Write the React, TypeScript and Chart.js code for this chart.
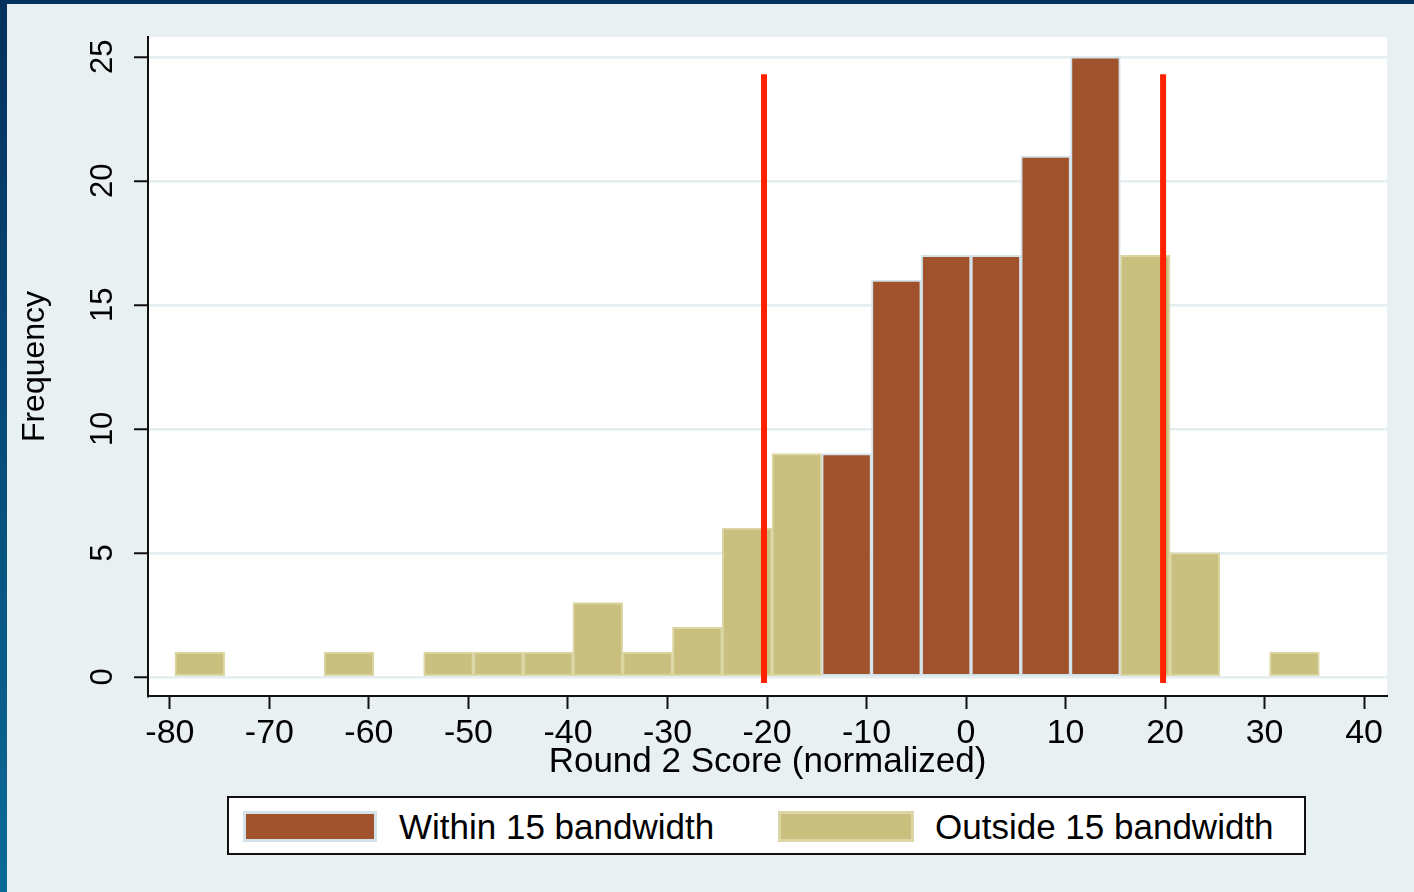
import React, { useEffect, useRef } from 'react';
import { Chart, registerables } from 'chart.js';

Chart.register(...registerables);

// ---- data ----
const withinCenters = [-12, -7, -2, 3, 8, 13];
const withinCounts = [9, 16, 17, 17, 21, 25];
const outsideCenters = [-77, -62, -52, -47, -42, -37, -32, -27, -22, -17, 18, 23, 33];
const outsideCounts = [1, 1, 1, 1, 1, 3, 1, 2, 6, 9, 17, 5, 1];
const xTicks = [-80, -70, -60, -50, -40, -30, -20, -10, 0, 10, 20, 30, 40];
const yTicks = [0, 5, 10, 15, 20, 25];
const cutoffs = [-20.3, 19.8];
const cutoffSpan = [-0.25, 24.3];
const legendLabels = ['Within 15 bandwidth', 'Outside 15 bandwidth'];
const xTitle = 'Round 2 Score (normalized)';
const yTitle = 'Frequency';

const BROWN = '#a0522d';
const BROWN_EDGE = '#d4e2ea';
const TAN = '#c9c07f';
const TAN_EDGE = '#dcd6a4';
const RED = '#ff2200';
const BG = '#e8f0f2';
const GRID = '#e4edf0';
const FONT = '"Liberation Sans", Arial, Helvetica, sans-serif';

export default function App() {
  const ref = useRef<HTMLCanvasElement | null>(null);

  useEffect(() => {
    const canvas = ref.current;
    if (!canvas) return;

    const plotBg = {
      id: 'plotBg',
      beforeDraw(chart: any) {
        const { ctx, chartArea } = chart;
        ctx.save();
        ctx.fillStyle = '#ffffff';
        ctx.fillRect(chartArea.left, chartArea.top, chartArea.right - chartArea.left, chartArea.bottom - chartArea.top);
        ctx.restore();
      },
    };

    const yLabels = {
      id: 'yLabels',
      afterDraw(chart: any) {
        const { ctx } = chart;
        const ys = chart.scales.y;
        ctx.save();
        ctx.fillStyle = '#000';
        ctx.font = `31px ${FONT}`;
        ctx.textAlign = 'center';
        ctx.textBaseline = 'middle';
        yTicks.forEach((v) => {
          const y = ys.getPixelForValue(v);
          ctx.save();
          ctx.translate(103, y);
          ctx.rotate(-Math.PI / 2);
          ctx.fillText(String(v), 0, 0);
          ctx.restore();
        });
        ctx.restore();
      },
    };

    const lineSets = cutoffs.map((c) => ({
      type: 'line' as const,
      label: 'cutoff ' + c,
      data: cutoffSpan.map((y) => ({ x: c, y })),
      borderColor: RED,
      borderWidth: 6,
      pointRadius: 0,
      borderCapStyle: 'butt' as const,
      fill: false,
      order: 0,
    }));

    const chart = new Chart(canvas, {
      type: 'bar',
      data: {
        datasets: [
          {
            label: legendLabels[0],
            data: withinCenters.map((x, i) => ({ x, y: withinCounts[i] })),
            backgroundColor: BROWN,
            borderColor: BROWN_EDGE,
            borderWidth: 2,
            borderSkipped: false,
            grouped: false,
            barPercentage: 1,
            categoryPercentage: 1,
            order: 1,
          } as any,
          {
            label: legendLabels[1],
            data: outsideCenters.map((x, i) => ({ x, y: outsideCounts[i] })),
            backgroundColor: TAN,
            borderColor: TAN_EDGE,
            borderWidth: 2,
            borderSkipped: false,
            grouped: false,
            barPercentage: 1,
            categoryPercentage: 1,
            order: 1,
          } as any,
          ...(lineSets as any[]),
        ],
      },
      options: {
        responsive: false,
        animation: false,
        devicePixelRatio: 1,
        layout: { padding: { left: 8, top: 37, right: 27, bottom: 109 } },
        plugins: {
          legend: { display: false },
          tooltip: { enabled: false },
        },
        scales: {
          x: {
            type: 'linear',
            min: -82.2,
            max: 42.3,
            offset: false,
            afterBuildTicks: (s: any) => {
              s.ticks = xTicks.map((v) => ({ value: v }));
            },
            afterFit: (s: any) => {
              s.height = 87;
            },
            ticks: {
              color: '#000',
              font: { family: FONT, size: 34 },
              padding: 4,
              maxRotation: 0,
              minRotation: 0,
              autoSkip: false,
              callback: (v: any) => String(v),
            },
            grid: {
              offset: false,
              drawOnChartArea: false,
              drawTicks: true,
              tickLength: 13,
              tickColor: '#111',
              tickWidth: 2,
            },
            border: { display: true, color: '#111', width: 2 },
            title: {
              display: true,
              text: xTitle,
              color: '#000',
              font: { family: FONT, size: 35 },
              padding: { top: 0, bottom: 0 },
            },
          },
          y: {
            type: 'linear',
            min: -0.77,
            max: 25.8,
            afterBuildTicks: (s: any) => {
              s.ticks = yTicks.map((v) => ({ value: v }));
            },
            afterFit: (s: any) => {
              s.width = 140;
            },
            ticks: {
              color: 'rgba(0,0,0,0)',
              font: { family: FONT, size: 31 },
              padding: 4,
            },
            grid: {
              offset: false,
              color: GRID,
              lineWidth: 2.5,
              drawTicks: true,
              tickLength: 14,
              tickColor: '#111',
              tickWidth: 2,
            },
            border: { display: true, color: '#111', width: 2 },
            title: {
              display: true,
              text: yTitle,
              color: '#000',
              font: { family: FONT, size: 32 },
              padding: { top: 8, bottom: 0 },
            },
          },
        },
      } as any,
      plugins: [plotBg, yLabels],
    });

    return () => chart.destroy();
  }, []);

  const legendItems = [
    { label: legendLabels[0], fill: BROWN, edge: BROWN_EDGE, swLeft: 14, swWidth: 134, txtLeft: 170 },
    { label: legendLabels[1], fill: TAN, edge: TAN_EDGE, swLeft: 549, swWidth: 136, txtLeft: 706 },
  ];

  return (
    <div
      style={{
        position: 'absolute',
        left: 0,
        top: 0,
        width: 1414,
        height: 892,
        overflow: 'hidden',
        background: BG,
        fontFamily: FONT,
      }}
    >
      <canvas ref={ref} width={1414} height={892} style={{ position: 'absolute', left: 0, top: 0, width: 1414, height: 892 }} />
      <div style={{ position: 'absolute', left: 0, top: 0, width: 1414, height: 4, background: '#04315e' }} />
      <div
        style={{
          position: 'absolute',
          left: 0,
          top: 0,
          width: 7,
          height: 892,
          background: 'linear-gradient(to bottom, #05305d, #0a6a97)',
        }}
      />
      <div
        style={{
          position: 'absolute',
          left: 227,
          top: 796,
          width: 1079,
          height: 59,
          boxSizing: 'border-box',
          border: '2px solid #111',
          background: '#ffffff',
        }}
      >
        {legendItems.map((it) => (
          <React.Fragment key={it.label}>
            <div
              style={{
                position: 'absolute',
                left: it.swLeft,
                top: 13,
                width: it.swWidth,
                height: 31,
                boxSizing: 'border-box',
                background: it.fill,
                border: `3px solid ${it.edge}`,
              }}
            />
            <div
              style={{
                position: 'absolute',
                left: it.txtLeft,
                top: 11,
                fontSize: 35,
                lineHeight: 1,
                color: '#000',
                whiteSpace: 'nowrap',
              }}
            >
              {it.label}
            </div>
          </React.Fragment>
        ))}
      </div>
    </div>
  );
}
